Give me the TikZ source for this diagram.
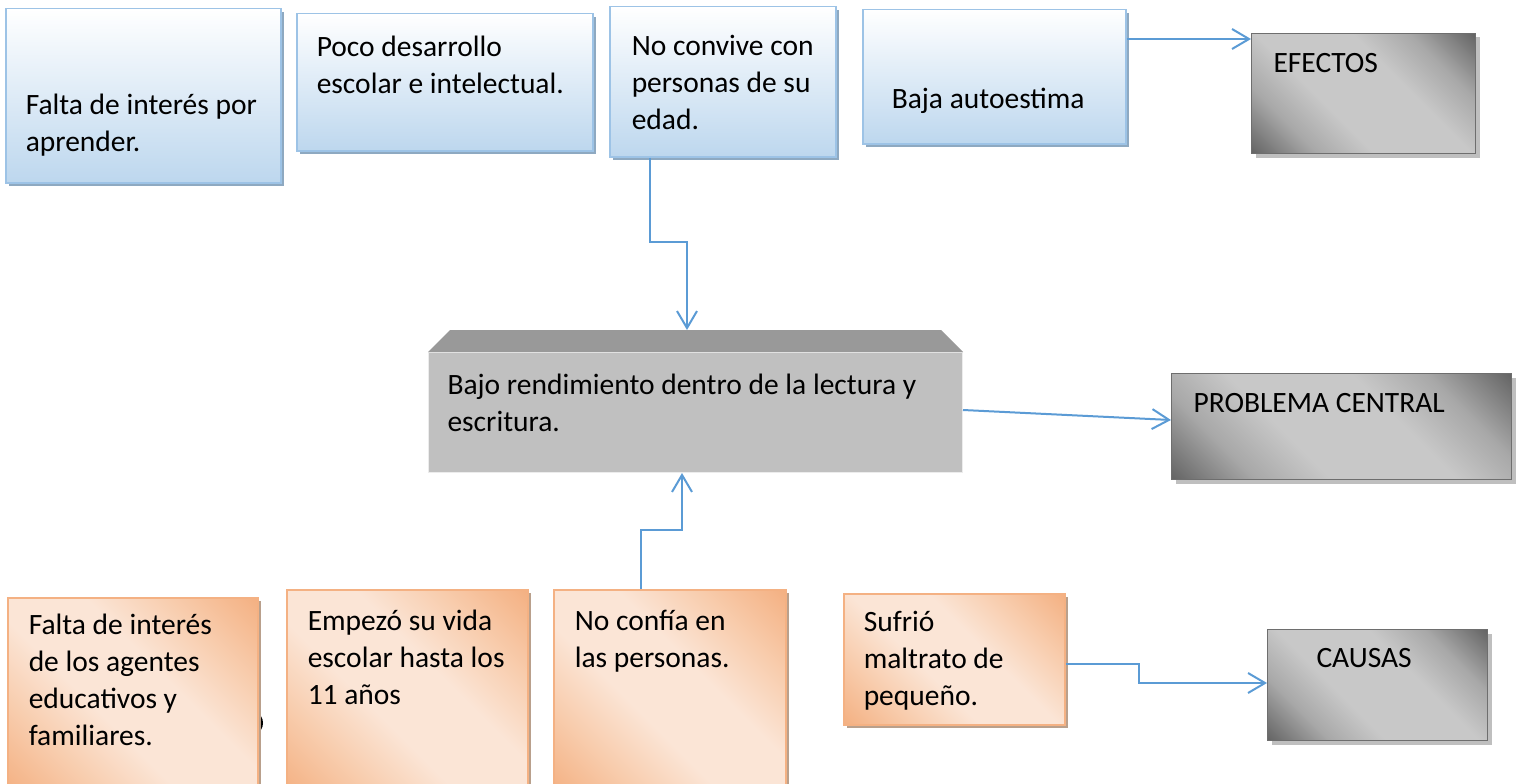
\documentclass[tikz,border=0pt]{standalone}
\usepackage{fontspec}
\setmainfont{Carlito}
\usetikzlibrary{arrows.meta,shadows}

\definecolor{azulborde}{HTML}{9DC3E6}
\definecolor{azulfondo}{HTML}{BDD7EE}
\definecolor{azulsombra}{HTML}{8EA9C1}
\definecolor{naranjaosc}{HTML}{F4B183}
\definecolor{naranjamed}{HTML}{F8CDAE}
\definecolor{naranjaclaro}{HTML}{FBE5D6}
\definecolor{naranjasombra}{HTML}{B9A08C}
\definecolor{grisosc}{HTML}{666666}
\definecolor{grismed}{HTML}{A8A8A8}
\definecolor{grisclaro}{HTML}{C8C8C8}
\definecolor{grisborde}{HTML}{6E6E6E}
\definecolor{grissombra}{HTML}{BFBFBF}
\definecolor{griscentro}{HTML}{C0C0C0}
\definecolor{grisbisel}{HTML}{999999}
\definecolor{flechaazul}{HTML}{5B9BD5}

\pgfdeclarehorizontalshading{bandanaranja}{100bp}{color(0bp)=(naranjaosc); color(15bp)=(naranjaosc); color(29bp)=(naranjamed); color(42bp)=(naranjaclaro); color(58bp)=(naranjaclaro); color(71bp)=(naranjamed); color(85bp)=(naranjaosc); color(100bp)=(naranjaosc)}
\pgfdeclarehorizontalshading{bandagris}{100bp}{color(0bp)=(grisosc); color(15bp)=(grisosc); color(28bp)=(grismed); color(40bp)=(grisclaro); color(60bp)=(grisclaro); color(72bp)=(grismed); color(85bp)=(grisosc); color(100bp)=(grisosc)}

% width, height, first baseline, text
\newcommand{\celda}[4]{\parbox[t][#2][t]{#1}{\rule{0pt}{#3}\makebox[0pt][l]{\begin{tabular}[t]{@{}l@{}}#4\end{tabular}}}}

\tikzset{
  efecto/.style={anchor=north west, inner ysep=0pt, draw=azulborde, line width=1.5pt,
    top color=white, bottom color=azulfondo,
    general shadow={fill=azulsombra, shadow xshift=3.5pt, shadow yshift=-3.5pt}},
  causa/.style={anchor=north west, inner ysep=0pt, draw=naranjaosc, line width=1.5pt,
    shading=bandanaranja, shading angle=45,
    general shadow={fill=naranjasombra, shadow xshift=3pt, shadow yshift=-3pt}},
  rotulo/.style={anchor=north west, inner ysep=0pt, draw=grisborde, line width=1pt,
    shading=bandagris, shading angle=45,
    general shadow={fill=grissombra, shadow xshift=4pt, shadow yshift=-4pt}},
  central/.style={anchor=north west, inner ysep=0pt, fill=griscentro, draw=white!85!gray, line width=1pt},
  flecha/.style={draw=flechaazul, line width=2pt, -{Straight Barb[length=17pt,width=20pt,line width=2pt]}},
}

\begin{document}
\begin{tikzpicture}[x=1pt,y=-1pt,font=\fontsize{29.5}{37}\selectfont]
\useasboundingbox (0,0) rectangle (1516,784);

% efectos
\node[efecto, inner xsep=20pt] (e1) at (5,8)   {\celda{235pt}{174pt}{106pt}{Falta de interés por\\aprender.}};
\node[efecto, inner xsep=20pt] (e2) at (296,13) {\celda{256pt}{137pt}{43pt}{Poco desarrollo\\escolar e intelectual.}};
\node[efecto, inner xsep=22pt] (e3) at (609,6)  {\celda{182pt}{150pt}{49pt}{No convive con\\personas de su\\edad.}};
\node[efecto, inner xsep=29pt] (e4) at (862,9)  {\celda{205pt}{134pt}{99pt}{Baja autoestima}};

% problema central
\node[central, inner xsep=19pt] (cen) at (428,352) {\celda{496pt}{120pt}{42pt}{Bajo rendimiento dentro de la lectura y\\escritura.}};
\fill[grisbisel] (cen.north west) -- ([shift={(22pt,22pt)}]cen.north west)
  -- ([shift={(-22pt,22pt)}]cen.north east) -- (cen.north east) -- cycle;

% causas
\fill (257,714) arc[start angle=-90,end angle=90,x radius=6,y radius=9];
\node[causa, inner xsep=21pt] (c1) at (7,597)   {\celda{208pt}{195pt}{37pt}{Falta de interés\\de los agentes\\educativos y\\familiares.}};
\node[causa, inner xsep=21pt] (c2) at (286,589) {\celda{199pt}{205pt}{41pt}{Empezó su vida\\escolar hasta los\\11 años}};
\node[causa, inner xsep=21pt] (c3) at (553,589) {\celda{190pt}{205pt}{41pt}{No confía en\\las personas.}};
\node[causa, inner xsep=20pt] (c4) at (843,593) {\celda{181pt}{131pt}{38pt}{Sufrió\\maltrato de\\pequeño.}};

% rotulos
\node[rotulo, inner xsep=22pt] (ref) at (1251,33)  {\celda{180pt}{120pt}{39pt}{EFECTOS}};
\node[rotulo, inner xsep=22pt] (rpc) at (1171,373) {\celda{296pt}{106pt}{39pt}{PROBLEMA CENTRAL}};
\node[rotulo, inner xsep=49pt] (rca) at (1267,629) {\celda{122pt}{111pt}{38pt}{CAUSAS}};

% flechas
\draw[flecha] ([xshift=41pt]e3.south west) -- ++(0,84) -| ([shift={(259pt,22pt)}]cen.north west);
\draw[flecha] ([xshift=88pt]c3.north west) -- ++(0,-59) -| ([xshift=254pt]cen.south west);
\draw[flecha] ([yshift=-58pt]cen.north east) -- ([yshift=-47pt]rpc.north west);
\draw[flecha] ([yshift=-30pt]e4.north east) -- ([yshift=-6pt]ref.north west);
\draw[flecha] ([yshift=-71pt]c4.north east) -- ++(73,0) |- ([yshift=-54pt]rca.north west);
\end{tikzpicture}
\end{document}
